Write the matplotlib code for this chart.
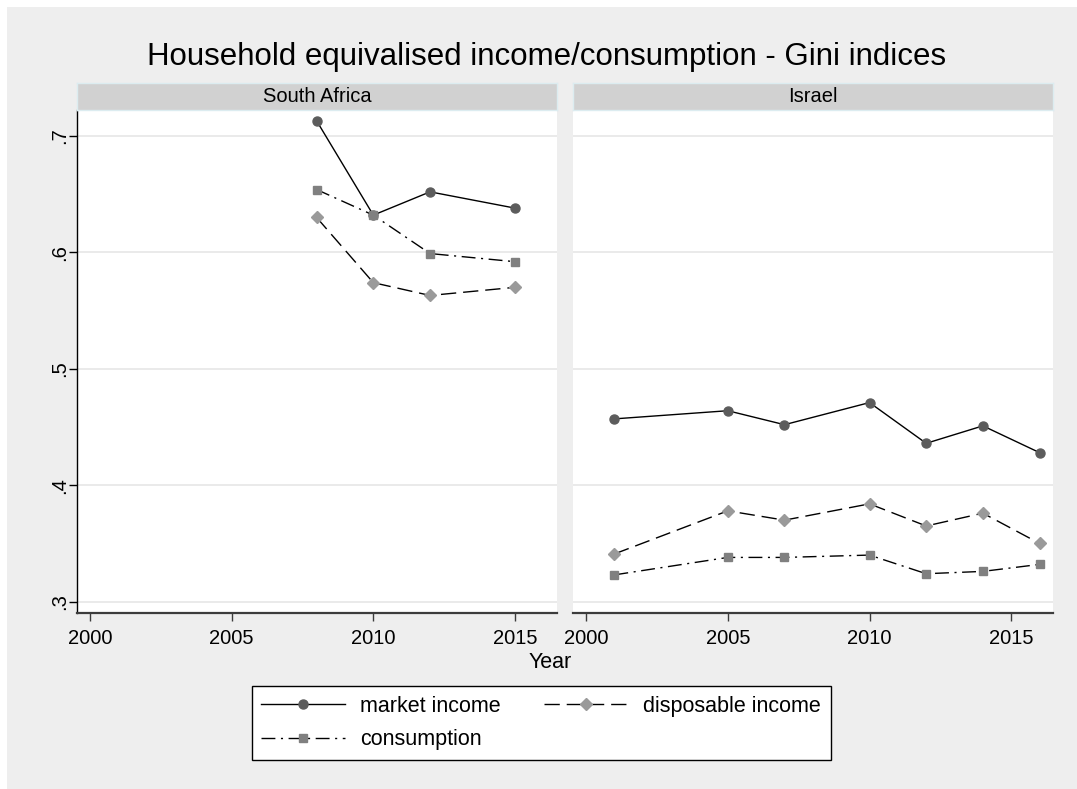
import matplotlib
matplotlib.use("Agg")
import matplotlib.pyplot as plt
from matplotlib.patches import Rectangle

plt.rcParams["font.family"] = ["Liberation Sans", "DejaVu Sans"]
plt.rcParams["lines.scale_dashes"] = False

# Gini indices
sa_years = [2008, 2010, 2012, 2015]
sa_market = [0.713, 0.632, 0.652, 0.638]
sa_disp = [0.630, 0.574, 0.563, 0.570]
sa_cons = [0.654, 0.632, 0.599, 0.592]

il_years = [2001, 2005, 2007, 2010, 2012, 2014, 2016]
il_market = [0.457, 0.464, 0.452, 0.471, 0.436, 0.451, 0.428]
il_disp = [0.341, 0.378, 0.370, 0.384, 0.365, 0.376, 0.350]
il_cons = [0.323, 0.338, 0.338, 0.340, 0.324, 0.326, 0.332]

panels = ["South Africa", "Israel"]
x_ticks = [2000, 2005, 2010, 2015]
y_ticks = [0.3, 0.4, 0.5, 0.6, 0.7]
y_labels = [".3", ".4", ".5", ".6", ".7"]

W, H = 1077, 789
fig = plt.figure(figsize=(W / 100, H / 100), dpi=100)
fig.patch.set_facecolor("white")
fig.patches.append(Rectangle((7 / W, -0.01), 1.02, 1.01 - 7 / H, transform=fig.transFigure,
                             facecolor="#eeeeee", edgecolor="none", zorder=-10))


def px_axes(x0, y0, x1, y1):
    return fig.add_axes([x0 / W, 1 - y1 / H, (x1 - x0) / W, (y1 - y0) / H])


styles = {
    "market": dict(color="black", lw=1.0, ls="-", marker="o", ms=6.5,
                   mfc="#5c5c5c", mec="#5c5c5c"),
    "disp": dict(color="black", lw=1.0, dashes=(11, 5), marker="D", ms=6.5,
                 mfc="#9a9a9a", mec="#9a9a9a"),
    "cons": dict(color="black", lw=1.0, dashes=(10, 4, 1.5, 4), marker="s", ms=6,
                 mfc="#808080", mec="#808080"),
}

data = [
    (sa_years, sa_market, sa_disp, sa_cons),
    (il_years, il_market, il_disp, il_cons),
]
lefts = [(77, 556.8), (573.3, 1052.9)]

handles = {}
for i, (name, (yrs, mk, dp, cs), (x0, x1)) in enumerate(zip(panels, data, lefts)):
    ax = px_axes(x0, 110, x1, 613.3)
    ax.set_facecolor("white")
    ax.set_xlim(1999.55, 2016.47)
    ax.set_ylim(0.290, 0.7223)
    ax.set_yticks(y_ticks)
    ax.set_xticks(x_ticks)
    ax.set_xticklabels([str(t) for t in x_ticks], fontsize=14.5)
    ax.grid(axis="y", color="#e6e6e6", lw=1.2)
    ax.set_axisbelow(True)
    for s in ["top", "right"]:
        ax.spines[s].set_visible(False)
    ax.spines["bottom"].set_color("#3c3c3c")
    ax.spines["bottom"].set_linewidth(1.6)
    ax.tick_params(axis="x", length=6, width=1.0, color="#3c3c3c", pad=5)
    if i == 0:
        ax.set_yticklabels(y_labels, fontsize=14.5, rotation=90, va="center")
        ax.spines["left"].set_color("black")
        ax.spines["left"].set_linewidth(1.0)
        ax.tick_params(axis="y", length=6, width=1.0, pad=0)
    else:
        ax.spines["left"].set_visible(False)
        ax.tick_params(axis="y", length=0, labelleft=False)

    handles["market"], = ax.plot(yrs, mk, label="market income", zorder=3, **styles["market"])
    handles["disp"], = ax.plot(yrs, dp, label="disposable income", zorder=4, **styles["disp"])
    handles["cons"], = ax.plot(yrs, cs, label="consumption", zorder=5, **styles["cons"])

    # strip header
    sax = px_axes(x0, 83, x1, 110)
    sax.set_facecolor("#d1d1d1")
    sax.set_xticks([])
    sax.set_yticks([])
    for s in sax.spines.values():
        s.set_color("#dcecf0")
        s.set_linewidth(1.0)
    sax.text(0.5, 0.5, name, ha="center", va="center", fontsize=14.5,
             transform=sax.transAxes)

fig.text(547 / W, 1 - 57 / H, "Household equivalised income/consumption - Gini indices",
         ha="center", va="center", fontsize=22.5)
fig.text(550 / W, 1 - 662 / H, "Year", ha="center", va="center", fontsize=15.5)

leg = fig.legend([handles["market"], handles["cons"], handles["disp"]],
                 ["market income", "consumption", "disposable income"],
                 ncol=2, loc="upper left",
                 bbox_to_anchor=(251.7 / W, 1 - 686 / H),
                 fontsize=15.5, frameon=True, fancybox=False, framealpha=1,
                 edgecolor="black", facecolor="white", numpoints=1,
                 handlelength=3.9, handletextpad=0.7, columnspacing=2.0,
                 borderpad=0.45, labelspacing=0.58, borderaxespad=0)
leg.get_frame().set_linewidth(1.0)

fig.savefig("out.png", dpi=100, facecolor=fig.get_facecolor())
